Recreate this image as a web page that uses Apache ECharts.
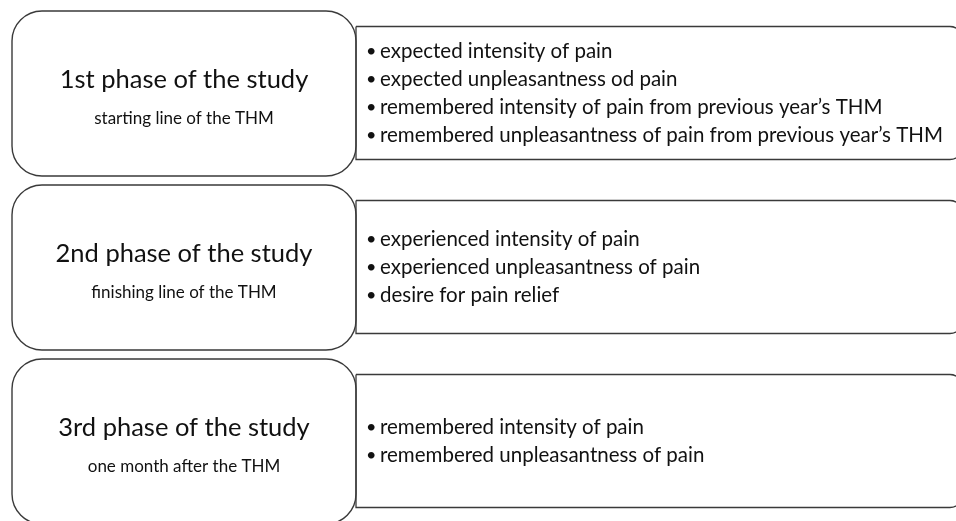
<!DOCTYPE html>
<html>
<head>
<meta charset="utf-8">
<script src="https://cdn.jsdelivr.net/npm/echarts@6/dist/echarts.min.js"></script>
<style>
  html, body { margin: 0; padding: 0; background: #fff; }
  #chart { width: 956px; height: 521px; }
</style>
</head>
<body>
<div id="chart"></div>
<script>
// phases of the study and what was measured in each
const phases = ['1st phase of the study', '2nd phase of the study', '3rd phase of the study'];
const moments = ['starting line of the THM', 'finishing line of the THM', 'one month after the THM'];
const measures1 = [
  'expected intensity of pain',
  'expected unpleasantness od pain',
  'remembered intensity of pain from previous year\u2019s THM',
  'remembered unpleasantness of pain from previous year\u2019s THM'
];
const measures2 = [
  'experienced intensity of pain',
  'experienced unpleasantness of pain',
  'desire for pain relief'
];
const measures3 = [
  'remembered intensity of pain',
  'remembered unpleasantness of pain'
];
const measures = [measures1, measures2, measures3];

const font = 'Lato, "Noto Sans", sans-serif';
const textColor = '#111';
const lineColor = '#3a3a3a';

const chart = echarts.init(document.getElementById('chart'));

// one row = rounded phase box on the left + list box on the right
function renderPhase(params, api) {
  const i = api.value(1);
  const band = api.size([0, 1])[1];
  const top = api.coord([0, i])[1] - band / 2;
  const lx0 = api.coord([12, i])[0];
  const lx1 = api.coord([356, i])[0];
  const rx1 = api.coord([962, i])[0];
  const cx = (lx0 + lx1) / 2;

  const items = measures[i];
  const mid = top + 82;
  const step = 28;
  const children = [];

  // right box (square on the left, rounded on the right)
  children.push({
    type: 'rect',
    shape: { x: lx1, y: top + 15.5, width: rx1 - lx1, height: 133, r: [0, 12, 12, 0] },
    style: { fill: '#fff', stroke: lineColor, lineWidth: 1.3 }
  });
  items.forEach((t, k) => {
    const y = mid + (k - (items.length - 1) / 2) * step;
    children.push({
      type: 'text',
      style: { x: lx1 + 10, y: y, text: '\u2022', fill: textColor, font: '18px ' + font, verticalAlign: 'middle' }
    });
    children.push({
      type: 'text',
      style: { x: lx1 + 24, y: y, text: t, fill: textColor, font: '20.5px ' + font, verticalAlign: 'middle' }
    });
  });

  // left box
  children.push({
    type: 'rect',
    shape: { x: lx0, y: top, width: lx1 - lx0, height: 165, r: 30 },
    style: { fill: 'none', stroke: lineColor, lineWidth: 1.4 }
  });
  children.push({
    type: 'text',
    style: { x: cx, y: top + 69, text: phases[i], fill: textColor, font: '25.5px ' + font, align: 'center', verticalAlign: 'middle' }
  });
  children.push({
    type: 'text',
    style: { x: cx, y: top + 108, text: moments[i], fill: textColor, font: '17px ' + font, align: 'center', verticalAlign: 'middle' }
  });

  return { type: 'group', children: children };
}

chart.setOption({
  animation: false,
  grid: { left: 0, right: 0, top: 11, height: 522, outerBoundsMode: 'none' },
  xAxis: { type: 'value', min: 0, max: 956, show: false },
  yAxis: { type: 'category', data: phases, inverse: true, show: false },
  series: [{
    type: 'custom',
    clip: false,
    renderItem: renderPhase,
    data: phases.map((p, i) => [0, i])
  }]
});
</script>
</body>
</html>
